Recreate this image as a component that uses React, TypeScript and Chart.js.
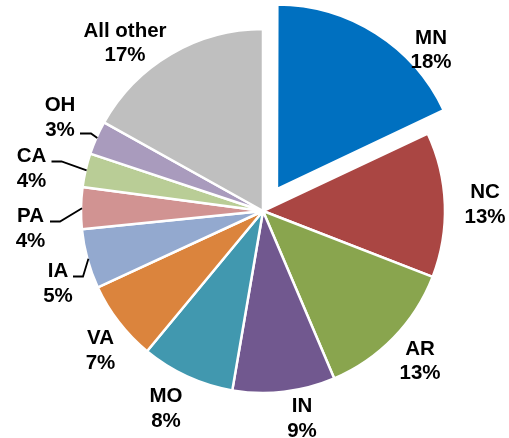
import React, { useEffect, useRef } from "react";
import { Chart, registerables } from "chart.js";

Chart.register(...registerables);

const categories = ["MN", "NC", "AR", "IN", "MO", "VA", "IA", "PA", "CA", "OH", "All other"];
const shares = [18.0, 12.9, 12.7, 9.1, 8.3, 7.1, 5.3, 3.7, 3.0, 3.0, 16.9];
const percentLabels = ["18%", "13%", "13%", "9%", "8%", "7%", "5%", "4%", "4%", "3%", "17%"];
const sliceColors = [
  "#0070C0", "#AA4643", "#89A54E", "#71588F", "#4198AF", "#DB843D",
  "#93A9CF", "#D19392", "#B9CD96", "#A99BBD", "#BFBFBF",
];

// label placement (center x, first-line baseline y)
const labelPos: [number, number][] = [
  [431, 43.5], [485, 198], [420, 354.5], [302, 412], [166, 402], [100.5, 344],
  [58, 277], [30.5, 222], [31.5, 162], [60, 111], [125, 36.5],
];
const LINE_GAP = 24.7;
// leader lines: [textX, textY, elbowX, elbowY] for slices that need them
const leaders: Record<number, [number, number, number, number]> = {
  6: [73, 276.5, 83, 276.5],
  7: [50, 221.5, 60, 221.5],
  8: [51.5, 161.5, 61.5, 161.5],
  9: [80, 133.5, 91, 133.5],
};

const labelPlugin = {
  id: "sliceLabels",
  afterDatasetsDraw(chart: any) {
    const ctx = chart.ctx;
    const meta = chart.getDatasetMeta(0);
    ctx.save();
    ctx.strokeStyle = "#000";
    ctx.lineWidth = 1.8;
    Object.keys(leaders).forEach((k) => {
      const i = Number(k);
      const arc: any = meta.data[i];
      const mid = (arc.startAngle + arc.endAngle) / 2;
      const r = arc.outerRadius - 1;
      const ex = arc.x + Math.cos(mid) * r;
      const ey = arc.y + Math.sin(mid) * r;
      const [tx, ty, bx, by] = leaders[i];
      ctx.beginPath();
      ctx.moveTo(tx, ty);
      ctx.lineTo(bx, by);
      ctx.lineTo(ex, ey);
      ctx.stroke();
    });
    ctx.fillStyle = "#000";
    ctx.font = 'bold 20.5px "Liberation Sans", Arial, sans-serif';
    ctx.textAlign = "center";
    ctx.textBaseline = "alphabetic";
    categories.forEach((c, i) => {
      const [x, y] = labelPos[i];
      ctx.fillText(c, x, y);
      ctx.fillText(percentLabels[i], x, y + LINE_GAP);
    });
    ctx.restore();
  },
};

export default function App() {
  const ref = useRef<HTMLCanvasElement | null>(null);
  useEffect(() => {
    if (!ref.current) return;
    const chart = new Chart(ref.current, {
      type: "pie",
      data: {
        labels: categories,
        datasets: [
          {
            data: shares,
            backgroundColor: sliceColors,
            borderColor: "#FFFFFF",
            borderWidth: 2.5,
            offset: shares.map((_, i) => (i === 0 ? 104 : 0)),
            hoverOffset: 0,
          },
        ],
      },
      options: {
        responsive: false,
        animation: false,
        events: [],
        radius: 182,
        layout: { padding: { left: 17, right: 0, top: 0, bottom: 16 } },
        plugins: {
          legend: { display: false },
          tooltip: { enabled: false },
        },
      } as any,
      plugins: [labelPlugin],
    });
    return () => chart.destroy();
  }, []);
  return (
    <div style={{ position: "absolute", left: 0, top: 0, width: 509, height: 438, background: "#fff" }}>
      <canvas ref={ref} width={509} height={438} style={{ width: 509, height: 438 }} />
    </div>
  );
}
